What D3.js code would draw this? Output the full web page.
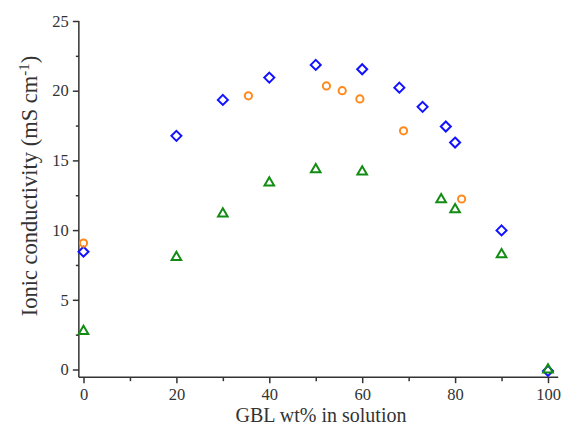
<!DOCTYPE html>
<html>
<head>
<meta charset="utf-8">
<script src="https://cdn.jsdelivr.net/npm/d3@7"></script>
<style>
  body { margin: 0; background: #fff; }
  text { font-family: "Liberation Serif", "Times New Roman", serif; fill: #333; }
</style>
</head>
<body>
<div id="chart"></div>
<script>
const width = 562;
const height = 425;

// diamonds (blue)
const blueX = [0, 20, 30, 40, 50, 60, 68, 73, 78, 80, 90, 100];
const blueY = [8.45, 16.76, 19.34, 20.94, 21.85, 21.54, 20.22, 18.84, 17.43, 16.28, 9.98, -0.1];
// circles (orange)
const orangeX = [0, 35.5, 52.3, 55.7, 59.5, 68.9, 81.4];
const orangeY = [9.07, 19.63, 20.34, 20.0, 19.41, 17.12, 12.23];
// triangles (green)
const greenX = [0, 20, 30, 40, 50, 60, 77, 80, 90, 100];
const greenY = [2.82, 8.12, 11.25, 13.47, 14.42, 14.26, 12.27, 11.55, 8.33, 0.05];

const xTicks = [0, 20, 40, 60, 80, 100];
const xMinor = [10, 30, 50, 70, 90];
const yTicks = [0, 5, 10, 15, 20, 25];
const yMinor = [2.5, 7.5, 12.5, 17.5, 22.5];

let x = d3.scaleLinear().domain([0, 100]).range([83.5, 548]);
let y = d3.scaleLinear().domain([0, 25]).range([369.5, 21]);

let svg = d3.select("#chart").append("svg")
  .attr("width", width)
  .attr("height", height);

const axisColor = "#333";
const yAxisX = x(-1);
const xAxisY = y(-0.55);

// minor ticks first, then major axes on top
svg.append("g")
  .attr("transform", "translate(0," + xAxisY + ")")
  .call(d3.axisBottom(x).tickValues(xMinor).tickSize(4).tickFormat(""))
  .call(g => g.select(".domain").remove());
svg.append("g")
  .attr("transform", "translate(" + yAxisX + ",0)")
  .call(d3.axisLeft(y).tickValues(yMinor).tickSize(3).tickFormat(""))
  .call(g => g.select(".domain").remove());

let xAxis = svg.append("g")
  .attr("transform", "translate(0," + xAxisY + ")")
  .call(d3.axisBottom(x).tickValues(xTicks).tickSize(6).tickSizeOuter(0).tickPadding(5));
xAxis.select(".domain").attr("d", "M" + yAxisX + ",0H" + x(102.2));

let yAxis = svg.append("g")
  .attr("transform", "translate(" + yAxisX + ",0)")
  .call(d3.axisLeft(y).tickValues(yTicks).tickSize(6).tickSizeOuter(0).tickPadding(4));
yAxis.select(".domain").attr("d", "M0," + y(25) + "V" + xAxisY);

svg.selectAll(".tick line, .domain")
  .attr("stroke", axisColor)
  .attr("stroke-width", 1.5);
svg.selectAll(".tick text")
  .style("font-size", "16.5px")
  .attr("fill", "#333");

// axis titles
svg.append("text")
  .attr("x", 321)
  .attr("y", 422)
  .attr("text-anchor", "middle")
  .style("font-size", "20px")
  .text("GBL wt% in solution");

let yTitle = svg.append("text")
  .attr("transform", "translate(37,186) rotate(-90)")
  .attr("text-anchor", "middle")
  .style("font-size", "22.5px");
yTitle.append("tspan").text("Ionic conductivity (mS cm");
yTitle.append("tspan").attr("dy", -8).style("font-size", "15px").text("-1");
yTitle.append("tspan").attr("dy", 8).text(")");

// markers
let pts = (xs, ys) => xs.map((d, i) => [d, ys[i]]);

svg.append("g").selectAll("path")
  .data(pts(blueX, blueY))
  .enter().append("path")
  .attr("transform", d => "translate(" + x(d[0]) + "," + y(d[1]) + ")")
  .attr("d", "M0,-5L5,0L0,5L-5,0Z")
  .attr("fill", "none")
  .attr("stroke", "#1212ff")
  .attr("stroke-width", 2);

svg.append("g").selectAll("circle")
  .data(pts(orangeX, orangeY))
  .enter().append("circle")
  .attr("cx", d => x(d[0]))
  .attr("cy", d => y(d[1]))
  .attr("r", 3.6)
  .attr("fill", "none")
  .attr("stroke", "#ff8a1c")
  .attr("stroke-width", 2);

svg.append("g").selectAll("path")
  .data(pts(greenX, greenY))
  .enter().append("path")
  .attr("transform", d => "translate(" + x(d[0]) + "," + y(d[1]) + ")")
  .attr("d", "M0,-4.5L4.8,3.8L-4.8,3.8Z")
  .attr("fill", "none")
  .attr("stroke", "#138c13")
  .attr("stroke-width", 2);
</script>
</body>
</html>
